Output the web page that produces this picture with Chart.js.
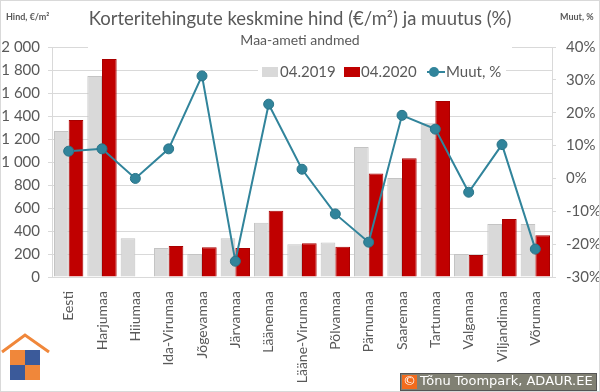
<!DOCTYPE html>
<html>
<head>
<meta charset="utf-8">
<script src="https://cdn.jsdelivr.net/npm/chart.js@4.4.1/dist/chart.umd.min.js"></script>
<style>
  html, body { margin: 0; padding: 0; background: #fff; }
  #wrap { width: 600px; height: 392px; position: relative; }
</style>
</head>
<body>
<div id="wrap"><canvas id="hindChart" width="600" height="392"></canvas></div>
<script>
// andmed (loetud graafikult)
const categories = ['Eesti', 'Harjumaa', 'Hiiumaa', 'Ida-Virumaa', 'Jõgevamaa', 'Järvamaa', 'Läänemaa',
    'Lääne-Virumaa', 'Põlvamaa', 'Pärnumaa', 'Saaremaa', 'Tartumaa', 'Valgamaa', 'Viljandimaa', 'Võrumaa'];
const price2019 = [1270, 1748, 336, 252, 200, 336, 472, 284, 299, 1130, 861, 1336, 200, 461, 461];
const price2020 = [1365, 1896, null, 270, 258, 252, 577, 293, 264, 899, 1032, 1530, 191, 504, 362];
const change = [8.3, 9.0, 0, 9.0, 31.2, -25.2, 22.6, 2.8, -10.8, -19.4, 19.2, 15.0, -4.2, 10.3, -21.5];
const seriesNames = ['04.2019', '04.2020', 'Muut, %'];

const FONT = 'Lato, "Noto Sans", sans-serif';
const txt = '#595959';
const grid = '#d9d9d9';
const teal = '#31849b';

// tekstid, legend, logo
const decor = {
    id: 'decor',
    beforeDatasetsDraw(chart) {
        const c = chart.ctx;
        c.save();
        c.fillStyle = '#fff';
        c.fillRect(88, 28, 424, 24);   // alapealkirja taust
        c.restore();
    },
    afterDraw(chart) {
        const c = chart.ctx;
        c.save();
        c.fillStyle = txt;
        c.textBaseline = 'middle';
        c.textAlign = 'center';
        c.font = '18.5px ' + FONT;
        c.fillText('Korteritehingute keskmine hind (€/m²) ja muutus (%)', 300, 19);
        c.font = '14px ' + FONT;
        c.fillText('Maa-ameti andmed', 300, 40);

        c.font = 'bold 9px ' + FONT;
        c.textAlign = 'left';
        c.fillText('Hind, €/m²', 6, 17);
        c.fillText('Muut, %', 560, 17);

        // legend
        c.fillStyle = '#fff';
        c.fillRect(258, 62, 248, 20);
        c.font = '15px ' + FONT;
        c.fillStyle = '#d9d9d9';
        c.fillRect(262, 67, 16, 10);
        c.fillStyle = '#c00000';
        c.fillRect(344, 67, 16, 10);
        c.strokeStyle = teal;
        c.lineWidth = 2;
        c.beginPath(); c.moveTo(427, 72); c.lineTo(445, 72); c.stroke();
        c.fillStyle = teal;
        c.beginPath(); c.arc(434, 72, 5, 0, Math.PI * 2); c.fill();
        c.fillStyle = txt;
        c.fillText(seriesNames[0], 280, 72);
        c.fillText(seriesNames[1], 361, 72);
        c.fillText(seriesNames[2], 446, 72);

        // logo
        c.strokeStyle = '#f0873a';
        c.lineWidth = 3;
        c.beginPath(); c.moveTo(2, 352); c.lineTo(25, 335); c.lineTo(49, 352); c.stroke();
        c.fillStyle = '#f0873a';
        c.fillRect(10, 350, 15, 15);
        c.fillRect(25, 365, 15, 15);
        c.fillStyle = '#3b5a9a';
        c.fillRect(25, 350, 15, 15);
        c.fillRect(10, 365, 15, 15);

        // autoriõigus
        c.fillStyle = '#808073';
        c.fillRect(400, 373, 197, 18);
        c.strokeStyle = '#555';
        c.lineWidth = 1;
        c.strokeRect(400.5, 373.5, 196, 17);
        c.fillStyle = '#f26b1d';
        c.fillRect(402, 375, 15, 14);
        c.fillStyle = '#fff';
        c.font = '13px "DejaVu Sans", sans-serif';
        c.fillText('©', 403, 382);
        c.fillText('Tõnu Toompark, ADAUR.EE', 420, 382);

        c.strokeStyle = grid;
        c.strokeRect(0.5, 0.5, 599, 391);
        c.restore();
    }
};

new Chart(document.getElementById('hindChart'), {
    type: 'bar',
    data: {
        labels: categories,
        datasets: [
            {
                type: 'line',
                label: seriesNames[2],
                data: change,
                yAxisID: 'y1',
                borderColor: teal,
                backgroundColor: teal,
                borderWidth: 2,
                pointRadius: 5,
                pointBorderColor: '#2a7488',
                pointBorderWidth: 1,
                order: 0
            },
            {
                label: seriesNames[0],
                data: price2019,
                backgroundColor: '#d9d9d9',
                borderColor: '#c4c4c4',
                borderWidth: 1,
                order: 1
            },
            {
                label: seriesNames[1],
                data: price2020,
                backgroundColor: '#c00000',
                borderColor: '#a80000',
                borderWidth: 1,
                order: 1
            }
        ]
    },
    options: {
        responsive: false,
        animation: false,
        layout: { padding: { top: 47, left: 0, right: 0, bottom: 0 } },
        categoryPercentage: 0.88,
        barPercentage: 1.0,
        plugins: {
            legend: { display: false },
            title: { display: false },
            tooltip: { enabled: false }
        },
        scales: {
            x: {
                grid: { display: false },
                border: { display: true, color: grid },
                ticks: {
                    color: txt,
                    font: { family: FONT, size: 14 },
                    minRotation: 90,
                    maxRotation: 90,
                    autoSkip: false,
                    padding: 6
                },
                afterFit: s => { s.height = 115; }
            },
            y: {
                position: 'left',
                min: 0,
                max: 2000,
                ticks: {
                    stepSize: 200,
                    color: txt,
                    font: { family: FONT, size: 15 },
                    padding: 8,
                    callback: v => v.toLocaleString('en-US').replace(',', ' ')
                },
                grid: { color: grid, tickLength: 4 },
                border: { display: true, color: grid },
                afterFit: s => { s.width = 52; }
            },
            y1: {
                position: 'right',
                min: -30,
                max: 40,
                ticks: {
                    stepSize: 10,
                    color: txt,
                    font: { family: FONT, size: 15 },
                    padding: 10,
                    callback: v => v + '%'
                },
                grid: { drawOnChartArea: false, color: grid, tickLength: 4 },
                border: { display: true, color: grid },
                afterFit: s => { s.width = 48; }
            }
        }
    },
    plugins: [decor]
});
</script>
</body>
</html>
